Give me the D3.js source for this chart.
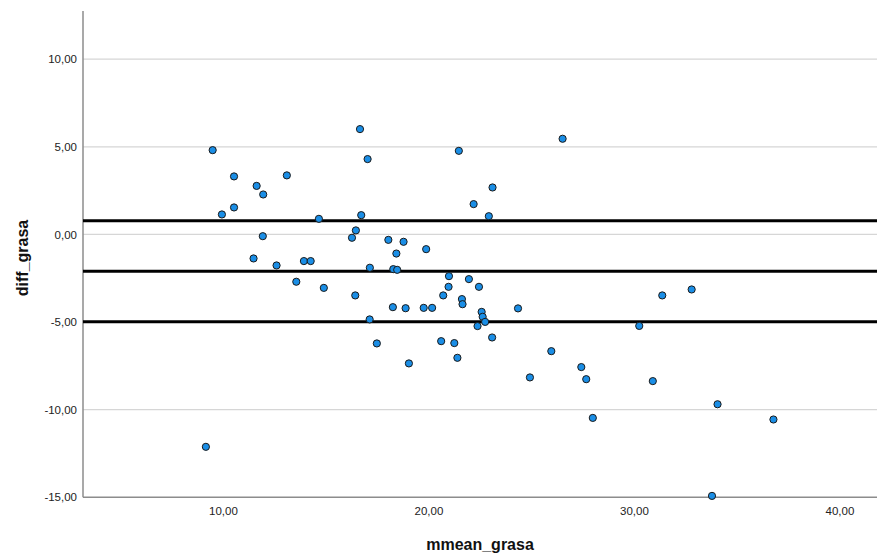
<!DOCTYPE html>
<html>
<head>
<meta charset="utf-8">
<script src="https://cdn.jsdelivr.net/npm/d3@7"></script>
<style>
  html, body { margin: 0; padding: 0; background: #fff; }
  svg { display: block; font-family: "Liberation Sans", Arial, sans-serif; }
</style>
</head>
<body>
<svg id="chart" width="877" height="559"></svg>
<script>
// --- data ---
const meanGrasa = [
  9.50, 10.54, 11.64, 11.96, 13.11, 10.54, 9.95, 11.94, 11.49, 12.61,
  13.57, 16.67, 26.53, 21.48, 17.04, 23.12, 22.20, 14.67, 16.73, 22.94,
  16.47, 16.28, 18.05, 18.79, 18.44, 19.89, 13.94, 14.27, 17.15, 18.29,
  18.48, 21.00, 21.97, 22.46, 20.98, 14.91, 16.44, 20.72, 21.63, 21.66,
  18.27, 18.89, 19.77, 20.18, 24.36, 22.59, 22.64, 22.76, 22.39, 17.14,
  23.10, 17.49, 20.62, 21.26, 21.41, 19.05, 31.38, 32.81, 30.26, 25.98,
  27.44, 24.94, 27.68, 30.92, 28.00, 34.07, 36.79, 33.80, 9.17
];
const diffGrasa = [
  4.81, 3.31, 2.77, 2.28, 3.37, 1.54, 1.14, -0.10, -1.37, -1.77,
  -2.70, 6.01, 5.46, 4.77, 4.30, 2.68, 1.73, 0.89, 1.10, 1.04,
  0.23, -0.19, -0.31, -0.42, -1.09, -0.84, -1.52, -1.52, -1.90, -1.98,
  -2.02, -2.38, -2.55, -2.99, -2.99, -3.05, -3.48, -3.48, -3.69, -3.98,
  -4.15, -4.21, -4.19, -4.19, -4.22, -4.42, -4.70, -4.99, -5.23, -4.85,
  -5.88, -6.22, -6.09, -6.20, -7.04, -7.36, -3.48, -3.14, -5.22, -6.66,
  -7.57, -8.16, -8.26, -8.37, -10.47, -9.69, -10.56, -14.92, -12.12
];
const refLines = [0.78, -2.10, -4.98];      // upper LoA, mean, lower LoA
const xTicks = [10, 20, 30, 40];
const yTicks = [-15, -10, -5, 0, 5, 10];
const xDomain = [3.19, 41.83];
const yDomain = [-15, 12.75];
const xLabel = "mmean_grasa";
const yLabel = "diff_grasa";

// --- layout ---
const svg = d3.select("#chart");
const pL = 83, pR = 877, pT = 11, pB = 497.3;
const x = d3.scaleLinear().domain(xDomain).range([pL, pR]);
const y = d3.scaleLinear().domain(yDomain).range([pB, pT]);
const loc = d3.formatLocale({ decimal: ",", thousands: ".", grouping: [3], currency: ["", ""], minus: "-" });
const fmt = loc.format(".2f");

// gridlines
svg.append("g").selectAll("line")
  .data(yTicks.filter(t => t !== -15))
  .join("line")
  .attr("x1", pL).attr("x2", pR)
  .attr("y1", d => y(d)).attr("y2", d => y(d))
  .attr("stroke", "#d6d6d6").attr("stroke-width", 1.3);

// y axis
const yAxis = d3.axisLeft(y).tickValues(yTicks).tickFormat(fmt).tickSize(0).tickPadding(6);
const gy = svg.append("g").attr("transform", `translate(${pL},0)`).call(yAxis);
gy.select(".domain").remove();
gy.selectAll("text").attr("font-size", "11.5px").attr("fill", "#222")
  .attr("font-family", "'Liberation Sans', Arial, sans-serif");

// x axis
const xAxis = d3.axisBottom(x).tickValues(xTicks).tickFormat(fmt).tickSize(0).tickPadding(10);
const gx = svg.append("g").attr("transform", `translate(0,${pB})`).call(xAxis);
gx.select(".domain").remove();
gx.selectAll("text").attr("font-size", "11.5px").attr("fill", "#222")
  .attr("font-family", "'Liberation Sans', Arial, sans-serif");

// axis lines
svg.append("line").attr("x1", pL).attr("x2", pL).attr("y1", pT).attr("y2", pB)
  .attr("stroke", "#8c8c8c").attr("stroke-width", 1.5);
svg.append("line").attr("x1", pL).attr("x2", pR).attr("y1", pB).attr("y2", pB)
  .attr("stroke", "#8c8c8c").attr("stroke-width", 1.5);

// reference lines
svg.append("g").selectAll("line").data(refLines).join("line")
  .attr("x1", pL).attr("x2", pR)
  .attr("y1", d => y(d)).attr("y2", d => y(d))
  .attr("stroke", "#000").attr("stroke-width", 3);

// points
const pts = meanGrasa.map((m, i) => ({ m, d: diffGrasa[i] }));
svg.append("g").selectAll("circle").data(pts).join("circle")
  .attr("cx", p => x(p.m)).attr("cy", p => y(p.d)).attr("r", 3.6)
  .attr("fill", "#1a8ee6").attr("stroke", "#1a1a1a").attr("stroke-width", 1);

// axis titles
svg.append("text").attr("x", (pL + pR) / 2).attr("y", 550)
  .attr("text-anchor", "middle").attr("font-size", "16px").attr("font-weight", "bold")
  .attr("fill", "#111").text(xLabel);
svg.append("text").attr("transform", "translate(28,258) rotate(-90)")
  .attr("text-anchor", "middle").attr("font-size", "16px").attr("font-weight", "bold")
  .attr("fill", "#111").text(yLabel);
</script>
</body>
</html>
